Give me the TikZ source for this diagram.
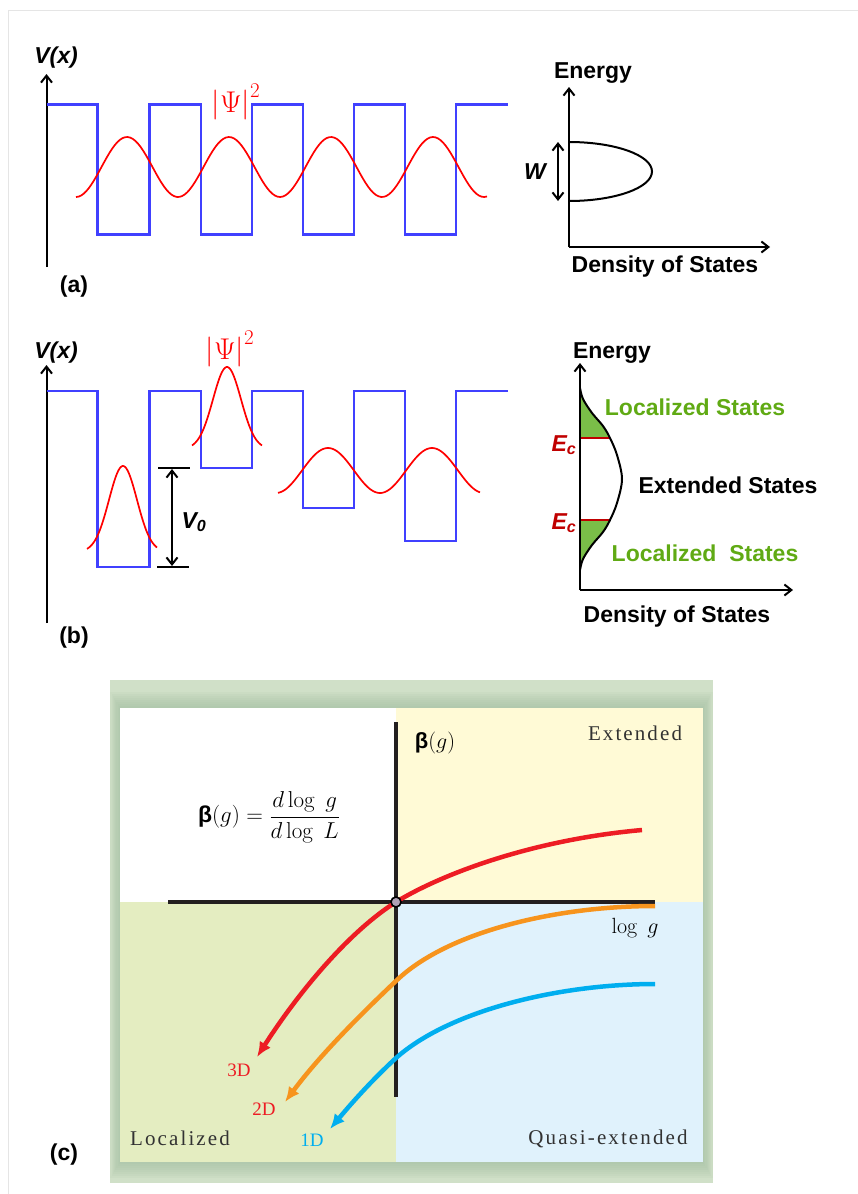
\RequirePackage{fix-cm}
\documentclass[tikz,border=0pt]{standalone}
\usepackage[no-math]{fontspec}
\setmainfont{Liberation Sans}
\newfontfamily\timesfont{Liberation Serif}
\newfontfamily\spacedserif[LetterSpace=10]{Liberation Serif}
\usetikzlibrary{arrows.meta}
\definecolor{wellblue}{RGB}{64,64,255}
\definecolor{ecred}{RGB}{192,0,0}
\definecolor{locgreen}{RGB}{96,170,20}
\definecolor{locfill}{RGB}{122,190,72}
\definecolor{framegreen}{RGB}{208,224,200}
\definecolor{frameshade}{RGB}{160,190,160}
\definecolor{quadyellow}{RGB}{255,250,214}
\definecolor{quadgreen}{RGB}{228,237,193}
\definecolor{quadblue}{RGB}{224,242,252}
\definecolor{curvered}{RGB}{237,28,36}
\definecolor{curveorange}{RGB}{247,148,29}
\definecolor{curveblue}{RGB}{0,174,239}
\definecolor{textgray}{RGB}{50,50,50}
\definecolor{axisblack}{RGB}{35,31,32}
\definecolor{markgray}{RGB}{175,160,180}
\newcommand\dosshape{plot[smooth,tension=0.55] coordinates {(580,388) (583,399) (592,413) (603,426) (610,438) (617,455) (622,479) (617,503) (610,520) (603,532) (592,545) (583,559) (580,570)}}
\begin{document}
\begin{tikzpicture}[x=1pt,y=-1pt,
  lbl/.style={font=\fontsize{23}{26}\selectfont\bfseries},
  ilbl/.style={font=\fontsize{23}{26}\selectfont\bfseries\itshape},
  axis/.style={line width=2pt,-{Straight Barb[length=7pt,width=11pt]}},
  dim/.style={line width=2pt,{Straight Barb[length=7pt,width=11pt]}-{Straight Barb[length=7pt,width=11pt]}},
  well/.style={draw=wellblue,line width=2.6pt},
  psi/.style={draw=red,line width=1.7pt},
  psilbl/.style={text=red,font=\fontsize{30}{44}\selectfont},
  region/.style={text=textgray,font=\spacedserif\fontsize{21}{24}\selectfont},
  dimlbl/.style={font=\timesfont\fontsize{19}{22}\selectfont},
  curve/.style={line width=4.5pt,-{Latex[length=15pt,width=13pt]}},
  baxis/.style={draw=axisblack,line width=4pt}
]
\useasboundingbox (0,0) rectangle (858,1194);
\draw[black!10,line width=1pt] (8,1194) -- (8,10) -- (858,10);

% (a) periodic potential
\draw[axis] (46.5,267) -- (46.5,74);
\node[ilbl] (va) at (56,58) {V(x)};
\draw[well] (46.5,104.5) \foreach \l/\r in {97.5/149.5,201/252,303/354,405/456}{
  -- (\l,104.5) -- (\l,234.5) -- (\r,234.5) -- (\r,104.5)} -- (508,104.5);
\draw[psi,domain=76:487,samples=160] plot (\x,{167-30*cos(3.5294*(\x-127))});
\node[psilbl] (psia) at (236,102) {$\big|\Psi\big|^{2}$};
\node[lbl] (labela) at (74,287) {(a)};

\draw[axis] (569,247) -- (569,87);
\draw[axis] (569,247) -- (770,247);
\draw[line width=2pt] (569,142) arc[start angle=-90,end angle=90,x radius=83,y radius=29.5];
\draw[dim] (558,142) -- (558,201);
\node[ilbl] (w) at (535,172) {W};
\node[lbl] (enga) at (593,73) {Energy};
\node[lbl] (dosa) at (665,267) {Density of States};

% (b) disordered potential
\draw[axis] (46.5,623) -- (46.5,365);
\node[ilbl] (vb) at (56,353) {V(x)};
\draw[well] (46.5,391) \foreach \l/\r/\d in {97.5/149.5/567,201/252/468,303/354/508,405/456/541}{
  -- (\l,391) -- (\l,\d) -- (\r,\d) -- (\r,391)} -- (508,391);
\draw[psi,domain=87:157,samples=80] plot (\x,{552-86*exp(-((\x-123)^2)/392)});
\draw[psi,domain=192:262,samples=80] plot (\x,{449-82*exp(-((\x-227)^2)/392)});
\draw[psi,domain=278:480,samples=120] plot (\x,{470.5-22.5*cos(3.4615*(\x-328))});
\node[psilbl] (psib) at (230,349) {$\big|\Psi\big|^{2}$};
\draw[line width=2pt] (158,468) -- (190,468);
\draw[line width=2pt] (157,567) -- (189,567);
\draw[dim] (172,469) -- (172,566);
\node[ilbl] (v0) at (194,522) {V\textsubscript{0}};
\node[lbl] (labelb) at (74,638) {(b)};

\begin{scope}
  \clip (575,380) rectangle (640,438);
  \fill[locfill] \dosshape -- cycle;
\end{scope}
\begin{scope}
  \clip (575,520) rectangle (640,580);
  \fill[locfill] \dosshape -- cycle;
\end{scope}
\draw[ecred,line width=2pt] (580,438) -- (610,438);
\draw[ecred,line width=2pt] (580,520) -- (610,520);
\draw[line width=2pt] \dosshape;
\draw[axis] (580,590) -- (580,363);
\draw[axis] (580,590) -- (793,590);
\node[ilbl,text=ecred] (ecu) at (564,445) {E\textsubscript{c}};
\node[ilbl,text=ecred] (ecl) at (564,523) {E\textsubscript{c}};
\node[lbl] (engb) at (612,353) {Energy};
\node[lbl,text=locgreen] (locu) at (695,407) {Localized States};
\node[lbl] (ext) at (728,485) {Extended States};
\node[lbl,text=locgreen] (locl) at (705,553) {Localized\ \ States};
\node[lbl] (dosb) at (677,617) {Density of States};

% (c) scaling function
\fill[framegreen] (110,680) rectangle (713,1183);
\foreach \k in {2,4,...,16}{
  \fill[frameshade,opacity=0.1] (120-\k*0.6,708-\k) rectangle (703+\k*0.6,1162+\k);
}
\fill[white] (120,708) rectangle (396,902);
\fill[quadyellow] (396,708) rectangle (703,902);
\fill[quadgreen] (120,902) rectangle (396,1162);
\fill[quadblue] (396,902) rectangle (703,1162);
\draw[baxis] (168,902) -- (655,902);
\draw[baxis] (396,722) -- (396,1097);
\draw[curve,curvered] (642,830) .. controls (530,840) and (440,875) .. (396,902)
  .. controls (350,931) and (300,990) .. (257,1057);
\draw[curve,curveorange] (655,906) .. controls (560,906) and (450,930) .. (397,980)
  .. controls (360,1015) and (320,1055) .. (285,1102);
\draw[curve,curveblue] (655,984) .. controls (560,984) and (450,1010) .. (396,1058)
  .. controls (370,1082) and (350,1105) .. (330,1129);
\filldraw[fill=markgray,draw=black,line width=1.6pt] (396,902) circle[radius=5];
\node[font=\fontsize{22}{26}\selectfont] (betay) at (435,743) {{\bfseries β}$(g)$};
\node[font=\fontsize{23}{27}\selectfont] (betaf) at (269,817) {{\bfseries β}$(g)=\displaystyle\frac{d\log\ g}{d\log\ L}$};
\node[font=\fontsize{22}{26}\selectfont] (logg) at (635,928) {$\log\ g$};
\node[region] (extc) at (635,733) {Extended};
\node[region] (locc) at (180,1138) {Localized};
\node[region] (quasic) at (608,1139) {Quasi-extended};
\node[dimlbl,text=curvered] (d3) at (239,1070) {3D};
\node[dimlbl,text=curvered] (d2) at (264,1109) {2D};
\node[dimlbl,text=curveblue] (d1) at (312,1140) {1D};
\node[lbl] (labelc) at (64,1155) {(c)};
\end{tikzpicture}
\end{document}
